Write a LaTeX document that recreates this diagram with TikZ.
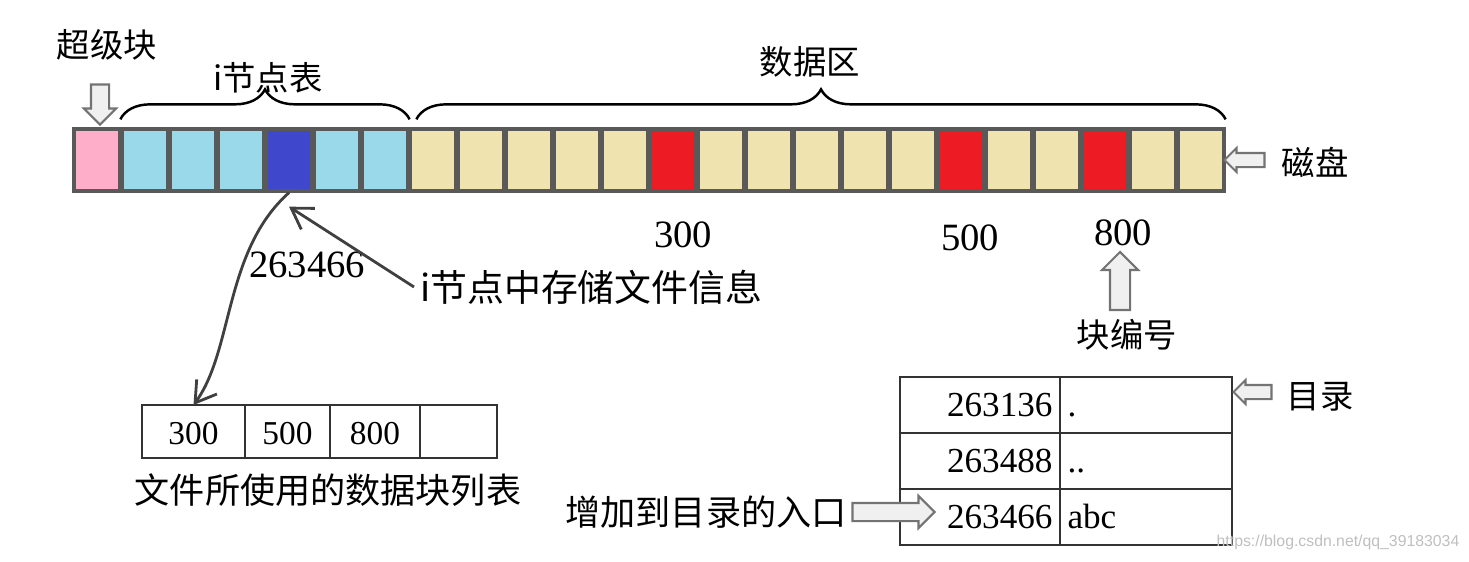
\documentclass[tikz,border=0pt]{standalone}
\usepackage{fontspec}
\setmainfont{Liberation Serif}
\newfontfamily\cjk{Noto Sans CJK SC}
\newfontfamily\wmfont{Liberation Sans}
\usetikzlibrary{positioning,arrows.meta,shapes.arrows,decorations.pathreplacing}

\definecolor{superpink}{HTML}{FFAEC9}
\definecolor{inodecyan}{HTML}{99D9EA}
\definecolor{inodeblue}{HTML}{3F48CC}
\definecolor{databeige}{HTML}{EFE4B0}
\definecolor{usedred}{HTML}{ED1C24}

\begin{document}
\begin{tikzpicture}[x=0.02cm, y=-0.02cm,
    blk/.style={draw=black!65, line width=1.9pt, minimum width=0.92cm, minimum height=1.24cm, inner sep=0pt},
    brc/.style={decorate, decoration={brace, amplitude=0.6cm, raise=0.16cm}, line width=1.4pt},
    cjklbl/.style={font=\cjk\fontsize{19}{22}\selectfont},
    numlbl/.style={font=\fontsize{22}{26}\selectfont},
    cell/.style={draw=black!80, line width=1.2pt, minimum height=1.06cm, inner sep=0pt, outer sep=0pt, text height=17pt, text depth=2pt, font=\fontsize{19}{22}\selectfont},
    dcell/.style={draw=black!80, line width=1.2pt, minimum height=1.12cm, inner xsep=0.15cm, inner ysep=0pt, outer sep=0pt, text height=16pt, text depth=3pt, font=\fontsize{20}{24}\selectfont},
    hollow/.style={single arrow, draw=black!55, line width=1.2pt, fill=black!6, inner xsep=0pt},
    ptr/.style={-{Straight Barb[length=4mm,width=5mm]}, line width=1.6pt, draw=black!75}]
  \useasboundingbox (0,0) rectangle (1469,561);

  % disk blocks
  \node[blk, fill=superpink] (b0) at (97,160) {};
  \foreach \i/\c in {1/inodecyan,2/inodecyan,3/inodecyan,4/inodeblue,5/inodecyan,6/inodecyan}
    \node[blk, fill=\c] (b\i) at (97+48*\i,160) {};
  \foreach \i in {7,...,23}{
    \def\c{databeige}
    \ifnum\i=12 \def\c{usedred}\fi
    \ifnum\i=18 \def\c{usedred}\fi
    \ifnum\i=21 \def\c{usedred}\fi
    \node[blk, fill=\c] (b\i) at (97+48*\i,160) {};
  }

  % braces and labels above
  \draw[brc] (b1.north west) -- (b6.north east);
  \draw[brc] ([xshift=0.16cm]b7.north west) -- (b23.north east);
  \node[cjklbl] (inodelbl) at (268,78) {i节点表};
  \node[cjklbl] (datalbl) at (810,62) {数据区};
  \node[cjklbl] (superlbl) at (107,45) {超级块};
  \node[hollow, minimum height=0.8cm, inner ysep=0.16cm, single arrow head extend=0.14cm, rotate=-90] (superarr) at (100,100) {};

  % disk label
  \node[hollow, minimum height=0.8cm, inner ysep=0.12cm, single arrow head extend=0.1cm, rotate=180] (diskarr) at (1248,160) {};
  \node[cjklbl] (disklbl) at (1315,162) {磁盘};

  % block numbers
  \node[numlbl] (n300) at (683,235) {300};
  \node[numlbl] (n500) at (970,238) {500};
  \node[numlbl] (n800) at (1123,233) {800};
  \node[hollow, minimum height=1.16cm, inner ysep=0.18cm, single arrow head extend=0.16cm, rotate=90] (numarr) at (1120,286) {};
  \node[cjklbl] (numlbl) at (1127,335) {块编号};

  % inode pointers
  \node[numlbl] (inum) at (307,265) {263466};
  \node[cjklbl, font=\cjk\fontsize{21}{24}\selectfont, anchor=west] (info) at (414,287) {i节点中存储文件信息};
  \coordinate[below=0.28cm of b4.south] (b4tip);
  \draw[ptr] (info.west) -- (b4tip);

  % list of data blocks
  \node[cell, minimum width=2.06cm] (lst1) at (193.5,431.5) {300};
  \node[cell, minimum width=1.7cm, right=0pt of lst1] (lst2) {500};
  \node[cell, minimum width=1.8cm, right=0pt of lst2] (lst3) {800};
  \node[cell, minimum width=1.54cm, right=0pt of lst3] (lst4) {};
  \node[cjklbl, font=\cjk\fontsize{20}{23}\selectfont] (lstlbl) at (328,490) {文件所使用的数据块列表};
  \draw[ptr] (b4.south) .. controls +(-65,58) and +(40,-55) .. (lst1.north);

  % directory
  \foreach \r/\num/\name in {1/263136/., 2/263488/.., 3/263466/abc}{
    \node[dcell, text width=2.9cm, align=right] (d\r n) at (980,349+56*\r) {\num};
    \node[dcell, text width=3.14cm, align=left, right=0pt of d\r n] (d\r f) {\name};
  }
  \node[hollow, minimum height=0.76cm, inner ysep=0.12cm, single arrow head extend=0.1cm, rotate=180] (dirarr) at (1256,392) {};
  \node[cjklbl] (dirlbl) at (1320,397) {目录};
  \node[cjklbl, font=\cjk\fontsize{20}{23}\selectfont] (entrylbl) at (706,512) {增加到目录的入口};
  \node[hollow, minimum height=1.64cm, inner ysep=0.16cm, single arrow head extend=0.14cm] (entryarr) at (889,512) {};

  \node[font=\wmfont\fontsize{9}{10}\selectfont, text=black!25] (wm) at (1338,542) {https://blog.csdn.net/qq\_39183034};
\end{tikzpicture}
\end{document}
